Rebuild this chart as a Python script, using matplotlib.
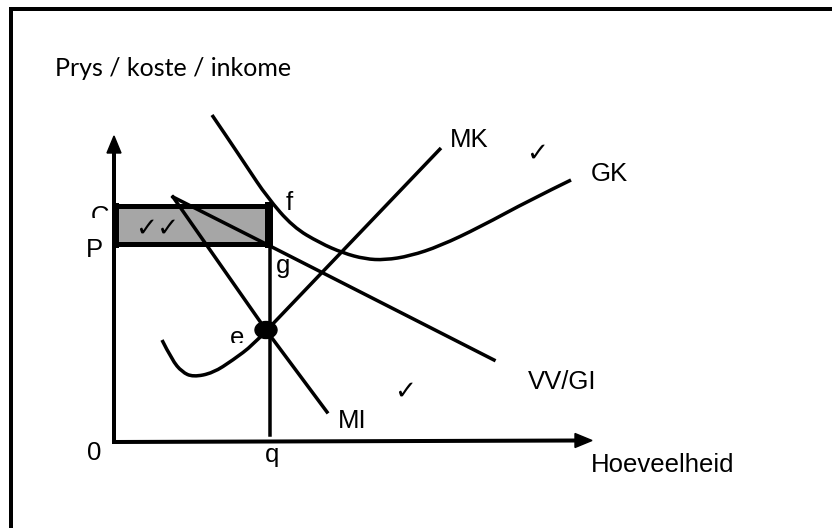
import matplotlib
matplotlib.use('Agg')
import matplotlib.pyplot as plt
from matplotlib.patches import Rectangle, Ellipse, Polygon, PathPatch
from matplotlib.path import Path

# all coordinates in picture units (x right, y down), 832 x 528
W, H = 832, 528

origin = (114, 442)
y_axis_top = 136
x_axis_end = 592

# price band (shaded rectangle): C and P levels, q quantity
q_x = 270
c_y = 206
p_y = 244

# curves
gk_x = [212, 227, 247, 267, 293, 320, 343, 365, 385, 410, 440, 480, 530, 571]
gk_y = [115, 137, 167, 197, 227, 243, 253, 259, 260, 256, 246, 227, 200, 180]

mk_x = [162, 172, 182, 193, 213, 233, 253, 267, 441]
mk_y = [340, 360, 372, 377, 373, 360, 345, 330, 148]

mi_x = [173, 266, 327]
mi_y = [197, 330, 412]

vv_x = [173, 270, 494]
vv_y = [197, 246, 360]

e_point = (266, 330)

labels = [
    ('MK', 469, 140), ('GK', 609, 174), ('f', 289, 203), ('P', 94, 250),
    ('0', 94, 453), ('MI', 352, 421), ('VV/GI', 562, 382),
]
checks = [('\u2713\u2713', 157, 229), ('\u2713', 537, 154), ('\u2713', 405, 392)]


def smooth_curve(xs, ys):
    # quadratic pieces through the midpoints, the read points act as controls
    pts = list(zip(xs, ys))
    verts = [pts[0]]
    codes = [Path.MOVETO]
    for i in range(1, len(pts) - 1):
        mid = ((pts[i][0] + pts[i + 1][0]) / 2, (pts[i][1] + pts[i + 1][1]) / 2)
        if i == len(pts) - 2:
            mid = pts[-1]
        verts += [pts[i], mid]
        codes += [Path.CURVE3, Path.CURVE3]
    return Path(verts, codes)


fig = plt.figure(figsize=(W / 100, H / 100), dpi=100)
ax = fig.add_axes([0, 0, 1, 1])
ax.set_xlim(0, W)
ax.set_ylim(H, 0)
ax.axis('off')

px = 72 / 100  # points per pixel
lw = 3.5 * px
arial = 'Liberation Sans'

# frame (only left and top edges visible)
ax.plot([11, 11, W + 5], [H + 5, 8.5, 8.5], color='black', lw=4 * px, solid_joinstyle='miter')

# shaded rectangle
ax.add_patch(Rectangle((origin[0], c_y), q_x - origin[0], p_y - c_y,
                       facecolor='#a6a6a6', edgecolor='black', lw=5 * px, zorder=2))
ax.plot([q_x - 1, q_x - 1], [c_y, p_y], color='black', lw=8 * px, zorder=3)
ax.plot([origin[0] + 1, origin[0] + 1], [c_y, p_y], color='black', lw=7 * px, zorder=3)

# axes with arrows
ax.plot([origin[0], origin[0]], [origin[1], y_axis_top + 14], color='black', lw=4 * px,
        solid_capstyle='projecting', zorder=3)
ax.plot([origin[0], x_axis_end - 14], [origin[1], origin[1] - 1.5], color='black', lw=4 * px,
        solid_capstyle='projecting', zorder=3)
ax.add_patch(Polygon([[origin[0], y_axis_top], [origin[0] - 7, y_axis_top + 17],
                      [origin[0] + 7, y_axis_top + 17]], closed=True, color='black', zorder=3))
ax.add_patch(Polygon([[x_axis_end, origin[1] - 1.5], [x_axis_end - 17, origin[1] - 8.5],
                      [x_axis_end - 17, origin[1] + 5.5]], closed=True, color='black', zorder=3))

# q vertical
ax.plot([q_x, q_x], [p_y, 435], color='black', lw=lw, zorder=3)

# curves
ax.add_patch(PathPatch(smooth_curve(gk_x, gk_y), fill=False, edgecolor='black', lw=lw,
                       capstyle='butt', zorder=3))
ax.add_patch(PathPatch(smooth_curve(mk_x[:-1], mk_y[:-1]), fill=False, edgecolor='black',
                       lw=lw, capstyle='butt', zorder=3))
ax.plot(mk_x[-2:], mk_y[-2:], color='black', lw=lw, solid_capstyle='butt', zorder=3)
ax.plot(mi_x, mi_y, color='black', lw=lw, zorder=3)
ax.plot(vv_x, vv_y, color='black', lw=lw, zorder=3)

ax.add_patch(Ellipse(e_point, 22, 17, color='black', zorder=4))

# labels
ax.text(55, 76, 'Prys / koste / inkome', fontsize=18, family='Lato', va='baseline', ha='left')
for s, x, y in labels:
    ax.text(x, y, s, fontsize=18.5, family=arial, ha='center', va='center')
ax.text(283, 273, 'g', fontsize=18.5, family=arial, ha='center', va='baseline')
ax.text(272, 462, 'q', fontsize=18.5, family=arial, ha='center', va='baseline')
ax.text(591, 472, 'Hoeveelheid', fontsize=18.5, family=arial, ha='left', va='baseline')

# partly hidden labels C and e: lower part masked, as in the source drawing
ax.text(100, 224, 'C', fontsize=18.5, family=arial, ha='center', va='baseline', zorder=1)
ax.add_patch(Rectangle((80, 218), 31, 18, facecolor='white', edgecolor='none', zorder=1.5))
ax.text(237, 345, 'e', fontsize=18.5, family=arial, ha='center', va='baseline', zorder=1)
ax.add_patch(Rectangle((222, 342.5), 26, 12, facecolor='white', edgecolor='none', zorder=1.5))

for s, x, y in checks:
    ax.text(x, y, s, fontsize=19, family='DejaVu Sans', ha='center', va='center', zorder=5)

fig.savefig('out.png', dpi=100)
